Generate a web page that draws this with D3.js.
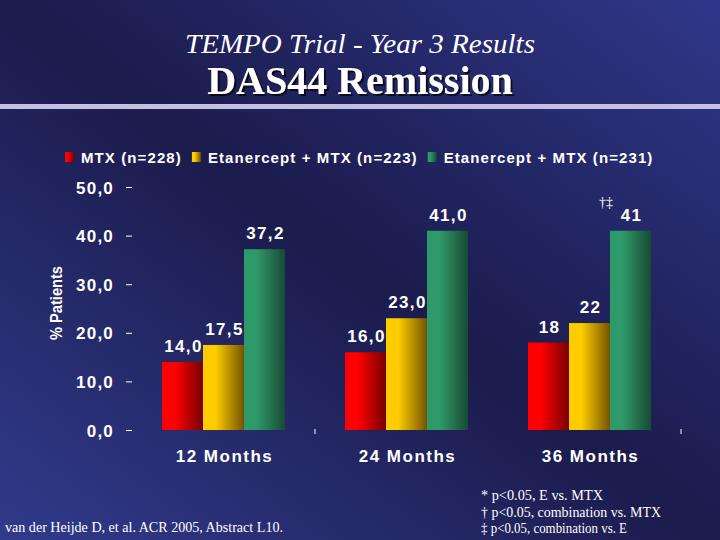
<!DOCTYPE html>
<html><head><meta charset="utf-8">
<script src="https://cdn.jsdelivr.net/npm/d3@7"></script>
<style>
html,body{margin:0;padding:0;background:#1c1c50;}
svg{display:block;}
</style></head>
<body>
<svg id="chart" width="720" height="540"></svg>
<script>
// ---- data ----
const categories = ["12 Months", "24 Months", "36 Months"];
const seriesNames = ["MTX (n=228)", "Etanercept + MTX (n=223)", "Etanercept + MTX (n=231)"];
const mtxValues = [14.0, 16.0, 18];
const etnValues = [17.5, 23.0, 22];
const comboValues = [37.2, 41.0, 41];
const mtxLabels = ["14,0", "16,0", "18"];
const etnLabels = ["17,5", "23,0", "22"];
const comboLabels = ["37,2", "41,0", "41"];
const comboMarks = ["", "", "†‡"];
const yTicks = [0, 10, 20, 30, 40, 50];
const footnotes = ["* p<0.05, E vs. MTX", "† p<0.05, combination vs. MTX", "‡ p<0.05, combination vs. E"];
const citation = "van der Heijde D, et al. ACR 2005, Abstract L10.";

const seriesValues = [mtxValues, etnValues, comboValues];
const seriesLabels = [mtxLabels, etnLabels, comboLabels];
const colors = [
  {light:"#ff0000", dark:"#780000"},
  {light:"#ffcc00", dark:"#735400"},
  {light:"#2f9a69", dark:"#194a34"}
];

const svg = d3.select("#chart");
const defs = svg.append("defs");

// background
const bg = defs.append("linearGradient").attr("id","bg")
  .attr("x1","0").attr("y1","1").attr("x2","1").attr("y2","0");
bg.append("stop").attr("offset","0").attr("stop-color","#313b8c");
bg.append("stop").attr("offset","0.5").attr("stop-color","#1b1b4c");
bg.append("stop").attr("offset","1").attr("stop-color","#30378a");
svg.append("rect").attr("width",720).attr("height",540).attr("fill","url(#bg)");

colors.forEach((c,i)=>{
  const g = defs.append("linearGradient").attr("id","bar"+i)
    .attr("x1","0").attr("y1","0").attr("x2","1").attr("y2","0");
  g.append("stop").attr("offset","0").attr("stop-color",c.light);
  g.append("stop").attr("offset","0.3").attr("stop-color",c.light);
  g.append("stop").attr("offset","1").attr("stop-color",c.dark);
});
const sh = defs.append("filter").attr("id","shadow").attr("x","-10%").attr("y","-10%").attr("width","130%").attr("height","140%");
sh.append("feDropShadow").attr("dx",2).attr("dy",2).attr("stdDeviation",0.6).attr("flood-color","#000").attr("flood-opacity",0.7);

// title
svg.append("text").attr("x",360).attr("y",53).attr("text-anchor","middle")
  .attr("font-family","Liberation Serif, Times New Roman, serif").attr("font-style","italic")
  .attr("font-size",28).attr("fill","#fff").attr("textLength",350).attr("lengthAdjust","spacingAndGlyphs")
  .text("TEMPO Trial - Year 3 Results");
svg.append("text").attr("x",360).attr("y",94).attr("text-anchor","middle")
  .attr("font-family","Liberation Serif, Times New Roman, serif").attr("font-weight","bold")
  .attr("font-size",40).attr("fill","#fff").attr("filter","url(#shadow)").text("DAS44 Remission");
svg.append("rect").attr("x",0).attr("y",104).attr("width",720).attr("height",5).attr("fill","#c4c0e2");

// scales
const x0 = d3.scaleBand().domain(categories).range([132, 681])
  .paddingInner(60/183).paddingOuter(30/183);
const x1 = d3.scaleBand().domain(d3.range(seriesNames.length)).range([0, x0.bandwidth()]);
const y = d3.scaleLinear().domain([0, 50]).range([430, 187]);

const sans = "Liberation Sans, Arial, sans-serif";
const locale = d3.formatLocale({decimal:",", thousands:".", grouping:[3], currency:["",""]});
const fmt = locale.format(".1f");

// y axis
const yAxis = svg.append("g").attr("transform","translate(132,0)")
  .call(d3.axisLeft(y).tickValues(yTicks).tickFormat(fmt).tickSize(6).tickPadding(12));
yAxis.select(".domain").remove();
yAxis.selectAll(".tick line").attr("stroke","#fff").attr("stroke-width",1);
yAxis.selectAll(".tick text").attr("fill","#fff").attr("font-family",sans)
  .attr("font-weight","bold").attr("font-size",17).attr("letter-spacing","1.2px").attr("dy","0.36em");

svg.append("text").attr("transform","translate(62,303) rotate(-90)").attr("text-anchor","middle")
  .attr("font-family",sans).attr("font-weight","bold").attr("font-size",16)
  .attr("fill","#fff").attr("textLength",74).attr("lengthAdjust","spacingAndGlyphs").text("% Patients");

// x category ticks (band boundaries)
const xTickPos = [x0(categories[0]) + x0.step() - 30, x0(categories[2]) + x0.step() - 30];
svg.selectAll(".xtick").data(xTickPos).join("line")
  .attr("x1",d=>d).attr("x2",d=>d).attr("y1",429).attr("y2",434)
  .attr("stroke","#fff").attr("stroke-width",1);

// category labels
svg.selectAll(".cat").data(categories).join("text")
  .attr("x",d=>x0(d)+x0.bandwidth()/2+1).attr("y",462).attr("text-anchor","middle")
  .attr("font-family",sans).attr("font-weight","bold").attr("font-size",17)
  .attr("letter-spacing","1.5px").attr("fill","#fff").text(d=>d);

// bars
const groups = svg.selectAll(".grp").data(categories).join("g")
  .attr("transform",d=>`translate(${x0(d)},0)`);
groups.each(function(cat, ci){
  const g = d3.select(this);
  seriesValues.forEach((vals, si)=>{
    g.append("rect").attr("x",x1(si)).attr("width",x1.bandwidth())
      .attr("y",y(vals[ci])).attr("height",y(0)-y(vals[ci]))
      .attr("fill",`url(#bar${si})`);
    g.append("text").attr("x",x1(si)+x1.bandwidth()/2+1).attr("y",y(vals[ci])-10)
      .attr("text-anchor","middle").attr("font-family",sans).attr("font-weight","bold")
      .attr("font-size",17).attr("letter-spacing","1.3px").attr("fill","#fff")
      .text(seriesLabels[si][ci]);
  });
  if (comboMarks[ci]) {
    g.append("text").attr("x",x1(2)-4).attr("y",y(comboValues[ci])-24)
      .attr("text-anchor","middle").attr("font-family","Liberation Serif, serif")
      .attr("font-size",14).attr("fill","#fff").text(comboMarks[ci]);
  }
});

// legend
const legend = svg.append("g").attr("transform","translate(65,163)");
let lx = 0;
seriesNames.forEach((name, i)=>{
  legend.append("rect").attr("x",lx).attr("y",-11).attr("width",9).attr("height",10)
    .attr("fill",`url(#bar${i})`);
  const t = legend.append("text").attr("x",lx+16).attr("y",0)
    .attr("font-family",sans).attr("font-weight","bold").attr("font-size",15)
    .attr("letter-spacing","1.1px").attr("fill","#fff").text(name);
  lx += 16 + t.node().getComputedTextLength() + 10;
});

// footnotes
const serif = "Liberation Serif, Times New Roman, serif";
svg.append("text").attr("x",5).attr("y",532).attr("font-family",serif)
  .attr("font-size",14).attr("fill","#fff").attr("textLength",278)
  .attr("lengthAdjust","spacingAndGlyphs").text(citation);
const fnW = [122, 180, 146];
footnotes.forEach((f,i)=>{
  svg.append("text").attr("x",481).attr("y",500+i*16.5).attr("font-family",serif)
    .attr("font-size",14).attr("fill","#fff").attr("textLength",fnW[i])
    .attr("lengthAdjust","spacingAndGlyphs").text(f);
});
</script>
</body></html>
